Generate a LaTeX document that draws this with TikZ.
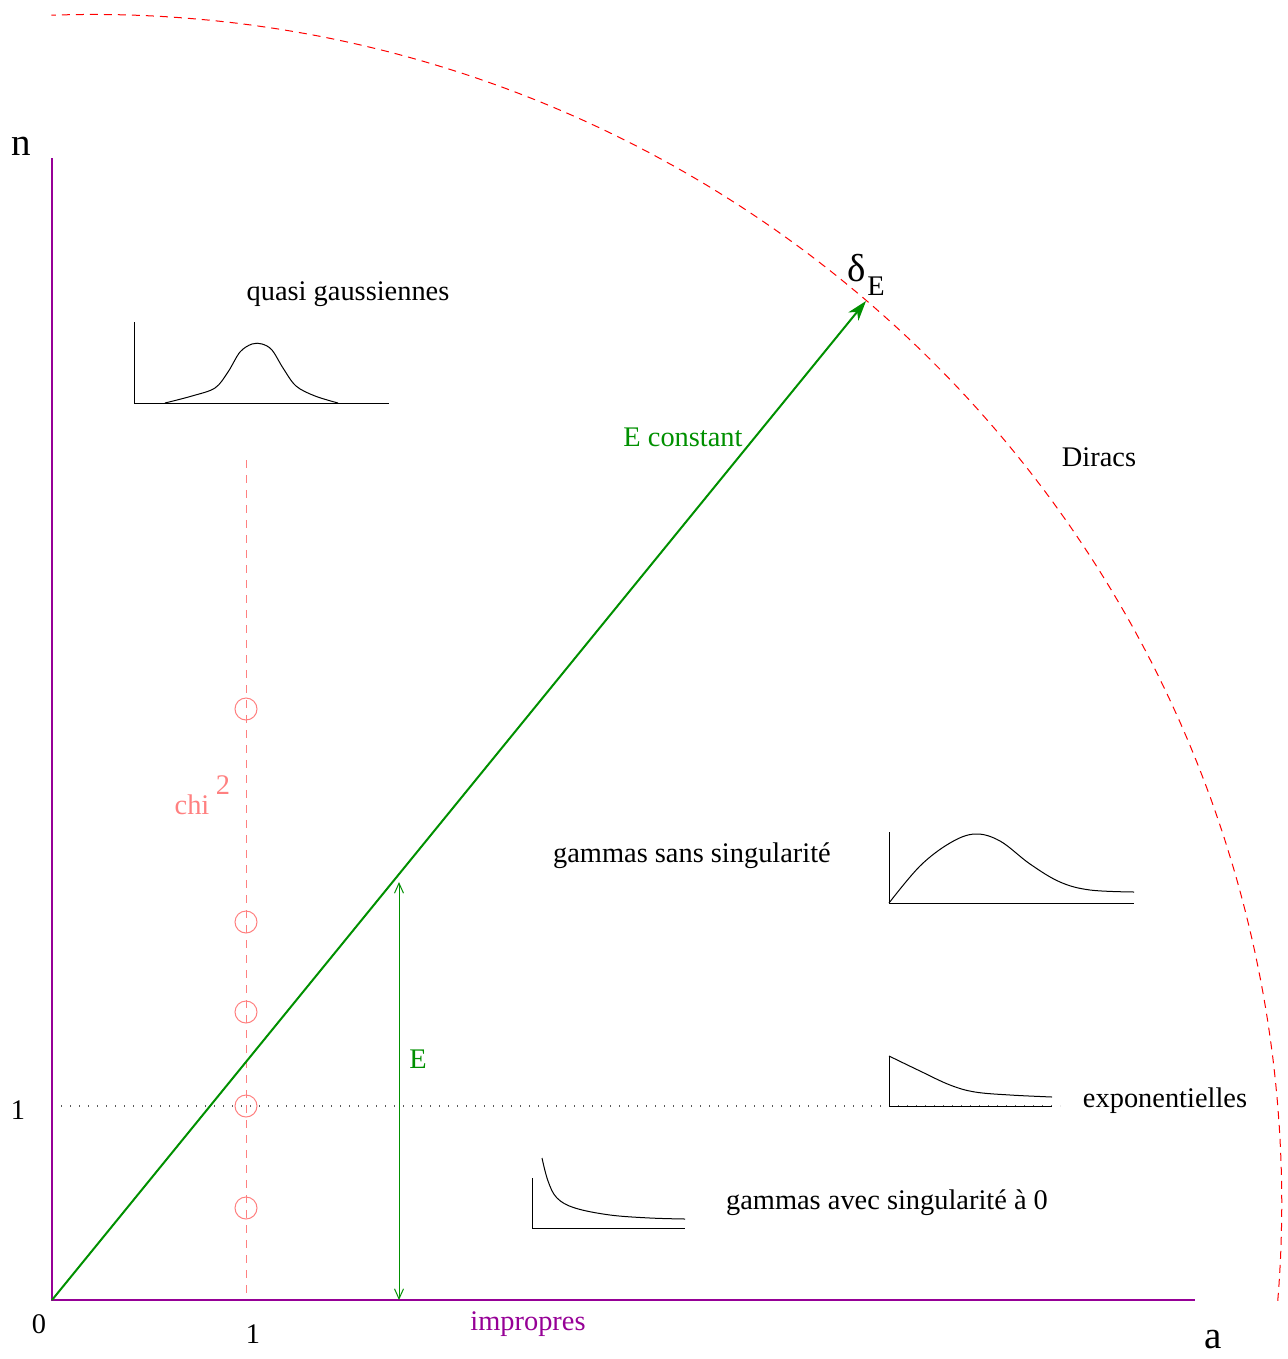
\documentclass[tikz,border=0pt]{standalone}
\usepackage{fontspec}
\setmainfont{Liberation Serif}
\usetikzlibrary{arrows.meta}
\definecolor{axpurple}{RGB}{150,0,150}
\definecolor{dgreen}{RGB}{0,144,0}
\definecolor{pinkred}{RGB}{255,128,128}
\definecolor{dotgray}{RGB}{90,90,90}
\begin{document}
\begin{tikzpicture}[x=0.5pt,y=-0.5pt,
  lbl/.style={inner sep=0pt,yshift=-1.3pt,font=\fontsize{14.2}{17}\selectfont},
  biglbl/.style={inner sep=0pt,font=\fontsize{19.5}{22}\selectfont},
  axisline/.style={axpurple,line width=1pt},
  mini/.style={black,line width=0.5pt},
  thinarrow/.style={dgreen,line width=0.5pt,{Straight Barb[length=5pt,width=4.5pt]}-{Straight Barb[length=5pt,width=4.5pt]}},
  ring/.style={pinkred,line width=0.5pt,circle,draw,minimum size=11pt,inner sep=0pt}]
\path[use as bounding box] (0,0) rectangle (1287,1359);

% coordinates
\coordinate (O) at (52,1300);
\coordinate (Ntop) at (52,158);
\coordinate (Aend) at (1195,1300);
\coordinate (Dir) at (866,301);
\coordinate (Ebot) at (399,1300);
\coordinate (Etop) at (399,882);
\coordinate (Cbot) at (246,1300);
\coordinate (Ctop) at (246,460);
\coordinate (D1) at (52,1106);
\coordinate (D2) at (1060,1106);

% big dashed arc
\draw[red,line width=0.5pt,dash pattern=on 4pt off 3pt]
  plot[domain=-4.7:92,samples=150] ({92.8+1189*cos(\x)},{1203.4-1189*sin(\x)});

% dotted level line
\draw[dotgray,line width=0.6pt,dash pattern=on 0.7pt off 3.8pt] (D1) -- (D2);

% chi2 line and rings
\draw[pinkred,line width=0.5pt,dash pattern=on 4pt off 3.5pt] (Ctop) -- (Cbot);
\node[ring] (c1) at (246,709) {};
\node[ring] (c2) at (246,922) {};
\node[ring] (c3) at (246,1012) {};
\node[ring] (c4) at (246,1106) {};
\node[ring] (c5) at (246,1208) {};
\node[lbl,pinkred] (chi) at (192,802) {chi};
\node[lbl,pinkred] (chi2) at (223,782) {2};

% axes
\draw[axisline] (Ntop) -- (O) -- (Aend);

% main green arrow
\draw[dgreen,line width=1pt,-{Stealth[length=10pt,width=6.5pt,inset=3pt]}] (O) -- (Dir);
\node[lbl,dgreen] (Ec) at (683,435) {E constant};

% E arrow
\draw[thinarrow] (Ebot) -- (Etop);
\node[lbl,dgreen] (Elbl) at (418,1057) {E};

% delta_E
\node[biglbl] (delta) at (857,268) {δ};
\node[lbl] (deltaE) at (876,284) {E};

% axis labels
\node[biglbl] (nl) at (21,146) {n};
\node[lbl] (zero) at (39,1322) {0};
\node[lbl] (one) at (253,1332) {1};
\node[biglbl] (al) at (1213,1340) {a};
\node[lbl] (oneL) at (18,1108) {1};
\node[lbl,axpurple] (impr) at (528,1322) {impropres};

% region labels
\node[lbl] (qg) at (348,292) {quasi gaussiennes};
\node[lbl] (dirac) at (1099,455) {Diracs};
\node[lbl] (gss) at (692,853) {gammas sans singularité};
\node[lbl] (expo) at (1165,1098) {exponentielles};
\node[lbl] (gas) at (887,1200) {gammas avec singularité à 0};

% mini plot 1: quasi gaussian
\draw[mini] (134,322) -- (134,403) -- (389,403);
\draw[mini] plot[smooth,tension=0.55] coordinates {(165,403) (192,396) (215,388) (228,372) (240,352) (252,344) (262,344) (272,350) (283,368) (296,386) (315,396) (338,403)};

% mini plot 2: gamma sans singularite
\draw[mini] (889,832) -- (889,903) -- (1134,903);
\draw[mini] plot[smooth,tension=0.6] coordinates {(889,903) (920,866) (950,843) (975,834) (1000,841) (1030,864) (1060,882) (1090,890) (1134,892)};

% mini plot 3: exponential
\draw[mini] (889,1056) -- (889,1106) -- (1052,1106);
\draw[mini] plot[smooth,tension=0.6] coordinates {(889,1056) (920,1071) (950,1085) (975,1092) (1010,1095) (1052,1097)};

% mini plot 4: gamma avec singularite
\draw[mini] (532,1178) -- (532,1228) -- (685,1228);
\draw[mini] plot[smooth,tension=0.6] coordinates {(542,1158) (548,1181) (557,1198) (575,1208) (610,1215) (650,1218) (685,1219)};

\end{tikzpicture}
\end{document}
